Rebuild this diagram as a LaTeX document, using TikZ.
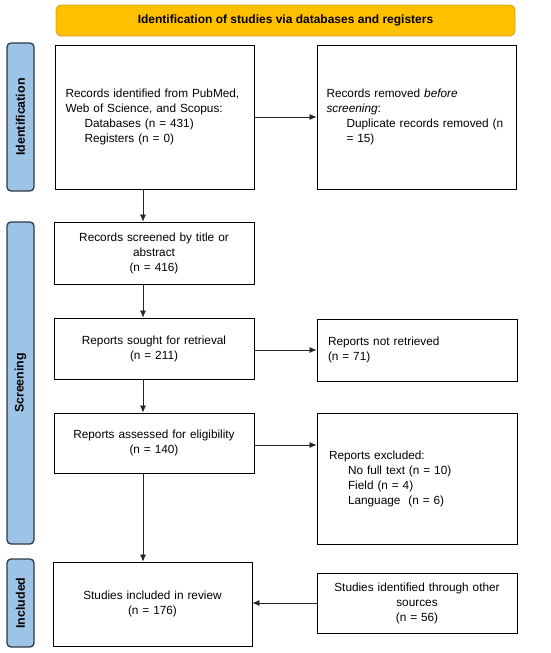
\documentclass[tikz,border=0pt]{standalone}
\usepackage{fontspec}
\setmainfont{Liberation Sans}
\usetikzlibrary{arrows.meta,positioning,calc}
\definecolor{bannerfill}{HTML}{FFC000}
\definecolor{bannerdraw}{HTML}{D9A21B}
\definecolor{sidefill}{HTML}{9DC3E6}
\definecolor{sidedraw}{HTML}{2E3A48}
\begin{document}
\begin{tikzpicture}[x=1pt,y=-1pt,
  box/.style={draw=black,line width=0.9pt,rectangle,inner sep=0pt,font=\fontsize{11.8}{15}\selectfont},
  cbox/.style={box,align=center},
  lbox/.style={box,align=left},
  side/.style={draw=sidedraw,fill=sidefill,line width=1.3pt,rounded corners=4pt,minimum width=27pt,inner sep=0pt},
  sidelabel/.style={rotate=90,font=\fontsize{12.4}{14}\selectfont\bfseries},
  arr/.style={-{Latex[length=7pt,width=6pt]},line width=0.6pt,draw=black!85},
]
\useasboundingbox (0,0) rectangle (550,653);
% banner
\node[draw=bannerdraw,fill=bannerfill,line width=0.9pt,rounded corners=5pt,minimum width=459pt,minimum height=31pt,inner sep=0pt,font=\fontsize{12}{14}\selectfont\bfseries] (banner) at (285.5,20.5) {Identification of studies via databases and registers};
% side labels
\node[side,minimum height=148pt] (sideid) at (20.5,117) {};
\node[sidelabel] (sideidt) at (sideid.center) {Identification};
\node[side,minimum height=322pt] (sidescr) at (20.5,383) {};
\node[sidelabel] (sidescrt) at (sidescr.center) {Screening};
\node[side,minimum height=88pt] (sideinc) at (20.5,603) {};
\node[sidelabel] (sideinct) at (sideinc.center) {Included};
% boxes
\node[lbox,minimum width=199pt,minimum height=144pt,text width=178pt] (ident) at (154.5,117)
  {Records identified from PubMed,\\Web of Science, and Scopus:\\\hspace*{19pt}Databases (n = 431)\\\hspace*{19pt}Registers (n = 0)};
\node[lbox,minimum width=199pt,minimum height=144pt,text width=180pt] (removed) at (416.5,117)
  {Records removed \textit{before}\\\textit{screening}:\\\hspace*{20pt}Duplicate records removed (n\\\hspace*{20pt}= 15)};
\node[cbox,minimum width=200pt,minimum height=62pt,text width=190pt] (screened) at (154,253)
  {Records screened by title or\\abstract\\(n = 416)};
\node[cbox,minimum width=200pt,minimum height=61pt,text width=190pt] (sought) at (154,348.5)
  {Reports sought for retrieval\\(n = 211)};
\node[lbox,minimum width=200pt,minimum height=62pt,text width=178pt] (notret) at (417,350)
  {Reports not retrieved\\(n = 71)};
\node[lbox,minimum width=200pt,minimum height=131pt,text width=176pt] (excluded) at (417,478.5)
  {Reports excluded:\\\hspace*{19pt}No full text (n = 10)\\\hspace*{19pt}Field (n = 4)\\\hspace*{19pt}Language\ \ (n = 6)};
\node[cbox,minimum width=200pt,minimum height=60pt,text width=190pt] (assessed) at (154,443)
  {Reports assessed for eligibility\\(n = 140)};
\node[cbox,minimum width=199pt,minimum height=84pt,text width=190pt] (included) at (152.5,604)
  {Studies included in review\\(n = 176)};
\node[cbox,minimum width=200pt,minimum height=60pt,text width=190pt] (other) at (417,603)
  {Studies identified through other\\sources\\(n = 56)};
% connectors
\draw[arr] (ident.east) -- (removed.west |- ident.east);
\draw[arr] ([xshift=-11.5pt]ident.south) -- ([xshift=-11pt]screened.north);
\draw[arr] ([xshift=-11pt]screened.south) -- ([xshift=-11pt]sought.north);
\draw[arr] (sought.east |- 0,350) -- (notret.west);
\draw[arr] ([xshift=-11pt]sought.south) -- ([xshift=-11pt]assessed.north);
\draw[arr] (assessed.east |- 0,445) -- (excluded.west |- 0,445);
\draw[arr] ([xshift=-11pt]assessed.south) -- ([xshift=-9.5pt]included.north);
\draw[arr] (other.west |- 0,603) -- (included.east |- 0,603);
\end{tikzpicture}
\end{document}
